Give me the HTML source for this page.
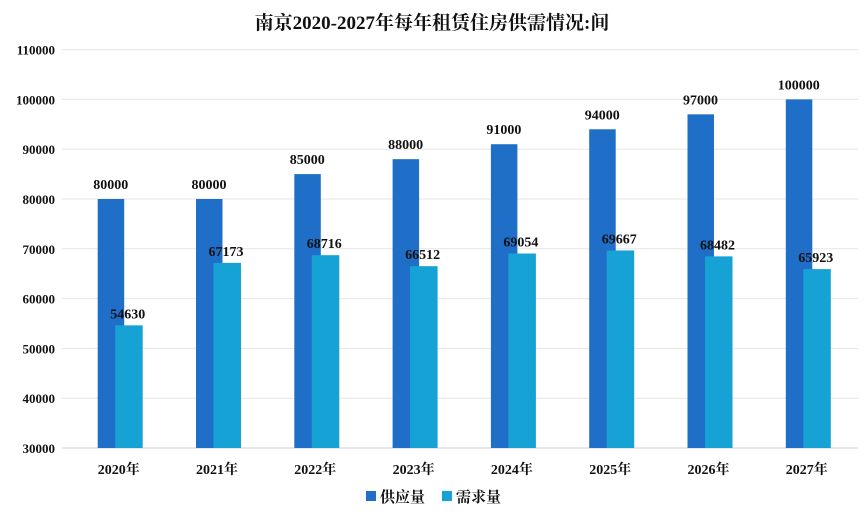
<!DOCTYPE html>
<html><head><meta charset="utf-8"><style>
body{margin:0;background:#fff}
svg text{font-family:"Liberation Serif","Noto Serif CJK SC",serif;font-weight:bold;fill:#111}
</style></head><body>
<svg width="865" height="513">
<text x="432" y="29" text-anchor="middle" font-size="19">南京2020-2027年每年租赁住房供需情况:间</text>
<g id="grid"></g><g id="bars"></g>
<g>
<rect x="366" y="491" width="10" height="10" fill="#1f6fc8"/>
<text x="380" y="502" font-size="15">供应量</text>
<rect x="442" y="491" width="10" height="10" fill="#17a2d6"/>
<text x="456" y="502" font-size="15">需求量</text>
</g>
</svg>
<script>
const categories=["2020年","2021年","2022年","2023年","2024年","2025年","2026年","2027年"];
const supply=[80000,80000,85000,88000,91000,94000,97000,100000];
const demand=[54630,67173,68716,66512,69054,69667,68482,65923];
const yTicks=[30000,40000,50000,60000,70000,80000,90000,100000,110000];
const NS="http://www.w3.org/2000/svg";
const y=v=>448-(v-30000)*(249/50000);
const x0=i=>97.7+i*98.3;
const grid=document.getElementById('grid'),bars=document.getElementById('bars');
function mk(tag,attrs,parent,txt){const e=document.createElementNS(NS,tag);for(const k in attrs)e.setAttribute(k,attrs[k]);if(txt!==undefined)e.textContent=txt;parent.appendChild(e);return e;}
yTicks.forEach(t=>{
 const l=mk('line',{x1:62,x2:858,y1:y(t),y2:y(t),stroke:t===30000?'#cfcfcf':'#e6e6e6','stroke-width':1},grid);
 
 
 const tx=mk('text',{x:55,y:y(t)+5,'text-anchor':'end','font-size':13},grid,String(t));
 
 
});
categories.forEach((c,i)=>{
 const xs=x0(i);
 const b1=mk('rect',{x:xs,y:y(supply[i]),width:26.5,height:448-y(supply[i]),fill:'#1f6fc8'},bars);
 
 
 const b2=mk('rect',{x:xs+17.5,y:y(demand[i]),width:27.5,height:448-y(demand[i]),fill:'#17a2d6'},bars);
 
 
 const t1=mk('text',{x:xs+13,y:y(supply[i])-10,'text-anchor':'middle','font-size':14},bars,String(supply[i]));
 
 
 const t2=mk('text',{x:xs+30,y:y(demand[i])-7,'text-anchor':'middle','font-size':14},bars,String(demand[i]));
 
 
 const xl=mk('text',{x:xs+21,y:474,'text-anchor':'middle','font-size':14},bars,c);
 
 
});
</script>
</body></html>
